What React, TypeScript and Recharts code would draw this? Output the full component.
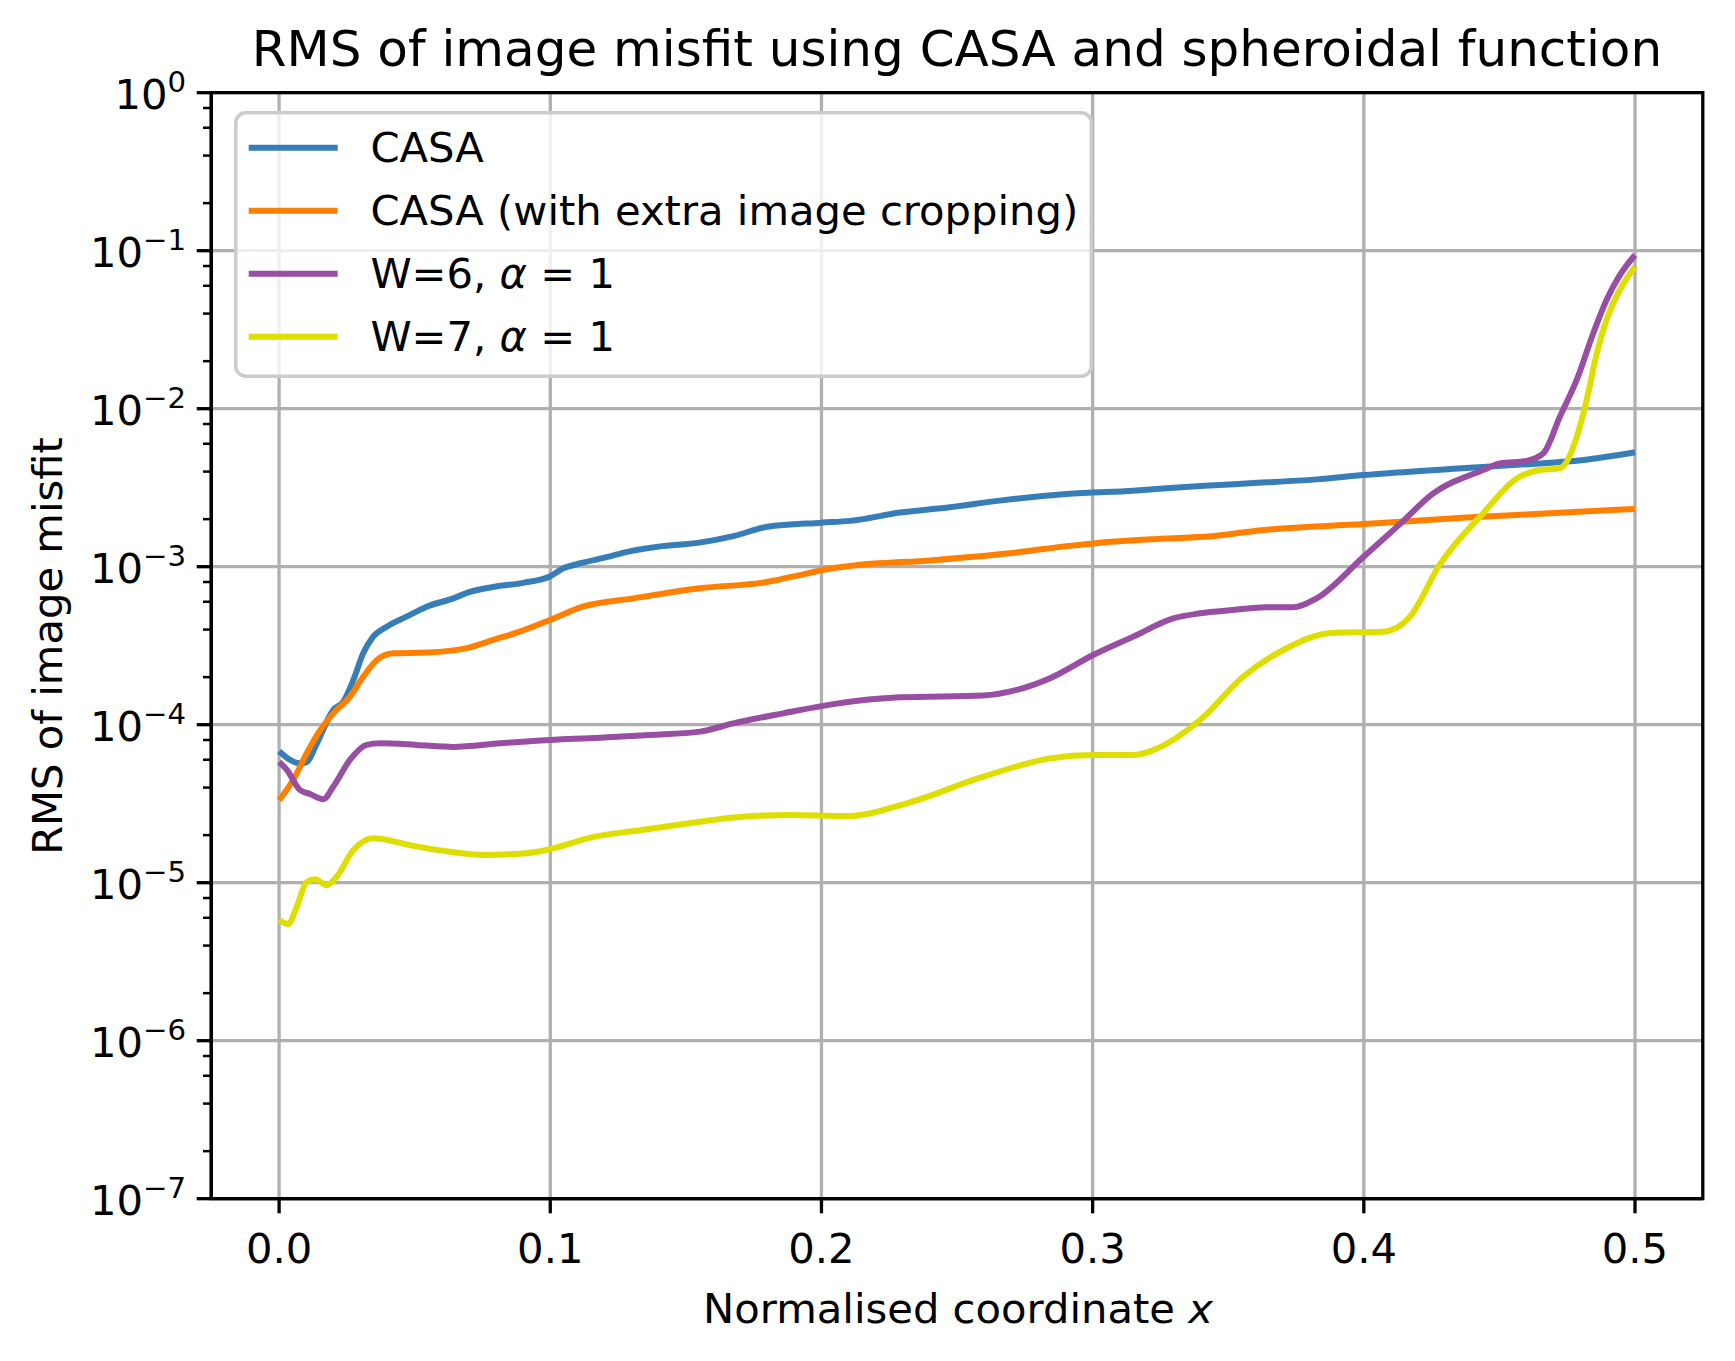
import React from 'react';
import { LineChart, Line, XAxis, YAxis, CartesianGrid, ReferenceArea, Legend } from 'recharts';

const FONT = "'DejaVu Sans', 'Bitstream Vera Sans', sans-serif";

// CASA
const casaX = [0, 0.0077, 0.0102, 0.0139, 0.02, 0.0237, 0.0274, 0.031, 0.0347, 0.0397, 0.047, 0.0544, 0.0642, 0.07, 0.08, 0.09, 0.1, 0.105, 0.11, 0.12, 0.13, 0.14, 0.155, 0.1675, 0.18, 0.2, 0.2105, 0.229, 0.2474, 0.2658, 0.2904, 0.315, 0.3396, 0.358, 0.3826, 0.4, 0.4317, 0.4564, 0.4809, 0.5];
const casaY = [6.8e-5, 5.7e-5, 5.8e-5, 7.6e-5, 1.24e-4, 1.4e-4, 1.92e-4, 2.83e-4, 3.61e-4, 4.17e-4, 4.83e-4, 5.58e-4, 6.3e-4, 6.9e-4, 7.5e-4, 7.9e-4, 8.7e-4, 9.8e-4, 1.04e-3, 1.14e-3, 1.26e-3, 1.34e-3, 1.42e-3, 1.56e-3, 1.79e-3, 1.9e-3, 1.95e-3, 2.2e-3, 2.38e-3, 2.62e-3, 2.88e-3, 3.03e-3, 3.24e-3, 3.37e-3, 3.57e-3, 3.8e-3, 4.15e-3, 4.41e-3, 4.73e-3, 5.3e-3];

// CASA (with extra image cropping)
const cropX = [0, 0.0052, 0.0102, 0.0151, 0.02, 0.0261, 0.031, 0.036, 0.0421, 0.0544, 0.0692, 0.079, 0.0888, 0.0999, 0.112, 0.1306, 0.1552, 0.1798, 0.1921, 0.2, 0.2105, 0.2412, 0.272, 0.2904, 0.3027, 0.3211, 0.3457, 0.3605, 0.4, 0.4379, 0.4686, 0.5];
const cropY = [3.33e-5, 4.47e-5, 6.6e-5, 9.2e-5, 1.18e-4, 1.5e-4, 2.01e-4, 2.56e-4, 2.83e-4, 2.86e-4, 3.05e-4, 3.44e-4, 3.88e-4, 4.6e-4, 5.58e-4, 6.3e-4, 7.3e-4, 8.0e-4, 8.85e-4, 9.5e-4, 1.01e-3, 1.1e-3, 1.23e-3, 1.35e-3, 1.42e-3, 1.49e-3, 1.57e-3, 1.69e-3, 1.86e-3, 2.05e-3, 2.18e-3, 2.32e-3];

// W=6, alpha = 1
const w6X = [0, 0.0028, 0.0077, 0.0114, 0.0163, 0.02, 0.0261, 0.0323, 0.0372, 0.0507, 0.0642, 0.0815, 0.0937, 0.1183, 0.1368, 0.1552, 0.1675, 0.1859, 0.2044, 0.2289, 0.2597, 0.272, 0.2843, 0.3002, 0.315, 0.3297, 0.3396, 0.3518, 0.3642, 0.374, 0.3826, 0.4, 0.4133, 0.4256, 0.444, 0.4502, 0.46, 0.4662, 0.4723, 0.4785, 0.4846, 0.4895, 0.4944, 0.5];
const w6Y = [5.8e-5, 5.2e-5, 3.86e-5, 3.64e-5, 3.37e-5, 4.06e-5, 5.98e-5, 7.45e-5, 7.62e-5, 7.45e-5, 7.23e-5, 7.62e-5, 7.89e-5, 8.28e-5, 8.61e-5, 9.04e-5, 1.02e-4, 1.18e-4, 1.35e-4, 1.49e-4, 1.53e-4, 1.66e-4, 1.97e-4, 2.76e-4, 3.61e-4, 4.71e-4, 5.07e-4, 5.32e-4, 5.53e-4, 5.53e-4, 6.31e-4, 1.16e-3, 1.86e-3, 2.91e-3, 4.09e-3, 4.51e-3, 4.67e-3, 5.22e-3, 8.9e-3, 1.52e-2, 3.0e-2, 4.88e-2, 7.0e-2, 9.4e-2];

// W=7, alpha = 1
const w7X = [0, 0.0034, 0.0065, 0.0102, 0.0132, 0.0176, 0.0212, 0.0274, 0.0347, 0.0495, 0.063, 0.0753, 0.09, 0.0999, 0.1159, 0.1331, 0.1552, 0.1675, 0.1884, 0.2093, 0.2314, 0.2597, 0.2843, 0.3002, 0.315, 0.3223, 0.3396, 0.3555, 0.3703, 0.3887, 0.4071, 0.417, 0.428, 0.444, 0.4564, 0.4649, 0.4723, 0.4785, 0.4822, 0.4859, 0.4895, 0.4944, 0.5];
const w7Y = [5.8e-6, 5.47e-6, 7.05e-6, 1.01e-5, 1.05e-5, 9.66e-6, 1.09e-5, 1.61e-5, 1.91e-5, 1.71e-5, 1.57e-5, 1.5e-5, 1.53e-5, 1.63e-5, 1.95e-5, 2.15e-5, 2.43e-5, 2.59e-5, 2.68e-5, 2.64e-5, 3.18e-5, 4.69e-5, 6.12e-5, 6.43e-5, 6.43e-5, 6.9e-5, 1.07e-4, 2.01e-4, 2.97e-4, 3.82e-4, 3.88e-4, 4.83e-4, 1.03e-3, 2.18e-3, 3.62e-3, 4.09e-3, 4.2e-3, 6.6e-3, 1.14e-2, 2.24e-2, 3.64e-2, 5.64e-2, 7.9e-2];

const xTicks = [0, 0.1, 0.2, 0.3, 0.4, 0.5];
const yTicks = [1e-7, 1e-6, 1e-5, 1e-4, 1e-3, 1e-2, 1e-1, 1];
const yMinorTicks = [
  2e-7, 4e-7, 6e-7, 8e-7, 2e-6, 4e-6, 6e-6, 8e-6, 2e-5, 4e-5, 6e-5, 8e-5,
  2e-4, 4e-4, 6e-4, 8e-4, 2e-3, 4e-3, 6e-3, 8e-3, 2e-2, 4e-2, 6e-2, 8e-2,
  2e-1, 4e-1, 6e-1, 8e-1,
];
const yAllTicks = [...yTicks, ...yMinorTicks].sort((a, b) => a - b);

const seriesNames = ['CASA', 'CASA (with extra image cropping)', 'W=6, α = 1', 'W=7, α = 1'];
const seriesColors = ['#377eb8', '#ff7f00', '#984ea3', '#dede00'];

const toPoints = (xs: number[], ys: number[]) => xs.map((x, i) => ({ x, y: ys[i] }));
const seriesData = [toPoints(casaX, casaY), toPoints(cropX, cropY), toPoints(w6X, w6Y), toPoints(w7X, w7Y)];

const X_DOMAIN = [-0.025, 0.525];
const Y_DOMAIN = [1e-7, 1];

const isMajor = (v: number) => yTicks.some((t) => Math.abs(t - v) / t < 1e-6);

const XTick = ({ x, y, payload }: any) => (
  <text x={x} y={y} dy={34.8} textAnchor="middle" fontFamily={FONT} fontSize={41.7} fill="#000">
    {Number(payload.value).toFixed(1)}
  </text>
);

// y ticks: tickSize/tickMargin are 0, so x is the spine; draw tick marks here (major + minor)
const YTick = ({ x, y, payload }: any) => {
  const v = payload.value;
  if (!isMajor(v)) {
    return <line x1={x} x2={x - 8.3} y1={y} y2={y} stroke="#000" strokeWidth={2.5} />;
  }
  const exp = Math.round(Math.log10(v));
  const sup = exp < 0 ? `\u2212${-exp}` : `${exp}`;
  return (
    <g>
      <line x1={x} x2={x - 14.6} y1={y} y2={y} stroke="#000" strokeWidth={3.3} />
      <text x={x - 25.3} y={y + 15.8} textAnchor="end" fontFamily={FONT} fontSize={41.7} fill="#000">
        10<tspan dy={-16.7} fontSize={29.2}>{sup}</tspan>
      </text>
    </g>
  );
};

// label text with the alpha in italic, like matplotlib mathtext
const renderName = (name: string) => {
  const parts = name.split('α');
  if (parts.length === 1) return name;
  return (
    <>
      {parts[0]}
      <tspan fontStyle="italic">α</tspan>
      {parts[1]}
    </>
  );
};

const LegendBox = () => (
  <svg width={860} height={267} style={{ display: 'block' }}>
    <rect x={1.75} y={1.75} width={855.5} height={263.5} rx={10} ry={10} fill="#fff" fillOpacity={0.8} stroke="#cccccc" strokeWidth={3.5} />
    {seriesNames.map((name, i) => {
      const cy = 36.7 + i * 63;
      return (
        <g key={name}>
          <line x1={14.7} x2={103.7} y1={cy} y2={cy} stroke={seriesColors[i]} strokeWidth={6} />
          <text x={136.4} y={cy + 14} fontFamily={FONT} fontSize={41.7} fill="#000">
            {renderName(name)}
          </text>
        </g>
      );
    })}
  </svg>
);

export default function App() {
  return (
    <div style={{ position: 'absolute', left: 0, top: 0, width: 1735, height: 1361, background: '#fff' }}>
      <LineChart width={1735} height={1361} margin={{ top: 92.7, right: 32.2, bottom: 0, left: 0 }}>
        <CartesianGrid
          xAxisId="main"
          yAxisId="main"
          stroke="#b0b0b0"
          strokeWidth={3.3}
          horizontalValues={yTicks}
          verticalValues={xTicks}
        />
        <XAxis
          xAxisId="main"
          type="number"
          dataKey="x"
          domain={X_DOMAIN}
          allowDataOverflow
          ticks={xTicks}
          interval={0}
          height={162.3}
          stroke="#000"
          axisLine={{ stroke: '#000', strokeWidth: 3.3 }}
          tickLine={{ stroke: '#000', strokeWidth: 3.3 }}
          tickSize={14.6}
          tickMargin={14.6}
          tick={<XTick />}
        />
        <YAxis
          yAxisId="main"
          type="number"
          scale="log"
          domain={Y_DOMAIN}
          allowDataOverflow
          ticks={yAllTicks}
          interval={0}
          width={211.3}
          stroke="#000"
          axisLine={{ stroke: '#000', strokeWidth: 3.3 }}
          tickLine={false}
          tickSize={0}
          tickMargin={0}
          tick={<YTick />}
        />
        {seriesData.map((data, i) => (
          <Line
            key={seriesNames[i]}
            xAxisId="main"
            yAxisId="main"
            data={data}
            dataKey="y"
            name={seriesNames[i]}
            type="monotone"
            stroke={seriesColors[i]}
            strokeWidth={6}
            strokeLinejoin="round"
            dot={false}
            activeDot={false}
            isAnimationActive={false}
          />
        ))}
        <ReferenceArea
          xAxisId="main"
          yAxisId="main"
          x1={X_DOMAIN[0]}
          x2={X_DOMAIN[1]}
          y1={Y_DOMAIN[0]}
          y2={Y_DOMAIN[1]}
          fill="none"
          fillOpacity={0}
          stroke="#000"
          strokeWidth={3.3}
          ifOverflow="visible"
        />
        <Legend
          layout="horizontal"
          verticalAlign="middle"
          align="center"
          content={() => <LegendBox />}
          wrapperStyle={{ left: 233.9, top: 111, width: 860, height: 267 }}
        />
      </LineChart>
      <svg width={1735} height={1361} style={{ position: 'absolute', left: 0, top: 0, pointerEvents: 'none' }}>
        <text x={957} y={65.7} textAnchor="middle" fontFamily={FONT} fontSize={50} fill="#000">
          RMS of image misfit using CASA and spheroidal function
        </text>
        <text x={958} y={1322.7} textAnchor="middle" fontFamily={FONT} fontSize={41.7} fill="#000">
          Normalised coordinate <tspan fontStyle="italic">x</tspan>
        </text>
        <text transform="translate(62, 646) rotate(-90)" textAnchor="middle" fontFamily={FONT} fontSize={41.7} fill="#000">
          RMS of image misfit
        </text>
      </svg>
    </div>
  );
}
